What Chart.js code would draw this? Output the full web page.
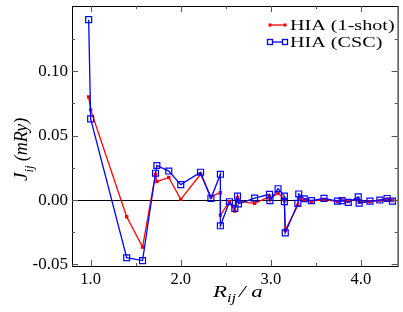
<!DOCTYPE html>
<html>
<head>
<meta charset="utf-8">
<script src="https://cdn.jsdelivr.net/npm/chart.js@4.4.1/dist/chart.umd.min.js"></script>
<style>
  html, body { margin: 0; padding: 0; background: #fff; }
  #wrap { width: 403px; height: 312px; }
</style>
</head>
<body>
<div id="wrap"><canvas id="c" width="403" height="312"></canvas></div>
<script>
// distances R_ij / a (same shells for both calculations)
const rij = [0.978, 1.0, 1.40, 1.576, 1.72, 1.735, 1.867, 2.0, 2.22, 2.335,
  2.44, 2.44, 2.54, 2.60, 2.63, 2.64, 2.82, 2.985, 2.99, 3.08,
  3.15, 3.15, 3.16, 3.30, 3.31, 3.37, 3.45, 3.59, 3.74, 3.79,
  3.86, 3.97, 3.98, 4.10, 4.21, 4.29, 4.35];

const jOneShot = [0.080, 0.070, -0.013, -0.0365, 0.020, 0.0143, 0.0175, 0.0005, 0.020, 0.0026,
  0.0057, -0.0117, -0.0013, -0.0085, 0.002, -0.001, -0.0026, 0.0026, 0.001, 0.0052,
  0.001, -0.0005, -0.0234, -0.004, 0.0015, 0.0, -0.001, 0.0005, -0.0012, 0.0,
  -0.0012, 0.001, -0.0015, -0.0012, -0.0005, 0.0008, -0.0005];

const jCSC = [0.140, 0.063, -0.0448, -0.047, 0.0208, 0.0268, 0.0225, 0.012, 0.0216, 0.0013,
  0.020, -0.020, -0.0013, -0.0065, 0.003, -0.003, 0.0015, 0.0044, -0.0005, 0.0088,
  0.003, -0.0012, -0.0255, -0.0026, 0.0047, 0.001, -0.0005, 0.0013, -0.0008, -0.0005,
  -0.0018, 0.0025, -0.0025, -0.0008, 0.0, 0.0012, -0.0008];

const xTicks = [1, 2, 3, 4];
const xMinor = [1.5, 2.5, 3.5];
const yTicks = [-0.05, 0, 0.05, 0.10];
const yMinor = [-0.025, 0.025, 0.075, 0.125];

const seriesNames = ['HIA (1-shot)', 'HIA (CSC)'];

const serif = "'Liberation Serif', 'Times New Roman', serif";

function pts(ys) {
  return rij.map((x, i) => ({ x: x, y: ys[i] }));
}

// text drawn a bit wider than the font, like the original plot
function wideText(ctx, txt, x, y, sx) {
  ctx.save();
  ctx.translate(x, y);
  ctx.scale(sx, 1);
  ctx.fillText(txt, 0, 0);
  const w = ctx.measureText(txt).width * sx;
  ctx.restore();
  return w;
}

// frame, inward ticks on all four sides, axis titles and legend
const decor = {
  id: 'decor',
  afterDraw(chart) {
    const ctx = chart.ctx;
    const a = chart.chartArea;
    const xs = chart.scales.x, ys = chart.scales.y;
    ctx.save();
    ctx.strokeStyle = '#000';
    ctx.lineWidth = 1;
    ctx.strokeRect(a.left + 0.5, a.top + 0.5, a.right - a.left, a.bottom - a.top);
    ctx.strokeStyle = '#555';
    ctx.beginPath();
    const tick = (vals, len) => {
      vals.forEach(v => {
        const px = Math.round(xs.getPixelForValue(v)) + 0.5;
        ctx.moveTo(px, a.bottom); ctx.lineTo(px, a.bottom - len);
        ctx.moveTo(px, a.top); ctx.lineTo(px, a.top + len);
      });
    };
    const tickY = (vals, len) => {
      vals.forEach(v => {
        const py = Math.round(ys.getPixelForValue(v)) + 0.5;
        ctx.moveTo(a.left, py); ctx.lineTo(a.left + len, py);
        ctx.moveTo(a.right, py); ctx.lineTo(a.right - len, py);
      });
    };
    tick(xTicks, 6); tick(xMinor, 3);
    tickY(yTicks, 6); tickY(yMinor, 3);
    ctx.stroke();

    // x title: R_ij / a
    ctx.fillStyle = '#000';
    ctx.textBaseline = 'alphabetic';
    ctx.textAlign = 'left';
    let bx = 213, by = 297;
    ctx.font = 'italic 17px ' + serif;
    bx += wideText(ctx, 'R', bx, by, 1.35);
    ctx.font = 'italic 12px ' + serif;
    bx += wideText(ctx, 'ij', bx, by + 5, 1.35) + 3;
    ctx.font = 'italic 17px ' + serif;
    wideText(ctx, '/ a', bx, by, 1.35);

    // y title: J_ij (mRy)
    ctx.translate(27, 181);
    ctx.rotate(-Math.PI / 2);
    bx = 0; by = 0;
    ctx.font = 'italic 19px ' + serif;
    ctx.fillText('J', bx, by);
    bx += ctx.measureText('J').width;
    ctx.font = 'italic 13px ' + serif;
    ctx.fillText('ij', bx, by + 6);
    bx += ctx.measureText('ij').width + 4;
    ctx.font = 'italic 18px ' + serif;
    ctx.fillText('(mRy)', bx, by);
    ctx.restore();

    // legend inside the plot, top right
    ctx.save();
    ctx.font = '15.5px ' + serif;
    ctx.textBaseline = 'middle';
    chart.data.datasets.forEach((ds, i) => {
      const ly = 25 + i * 17;
      ctx.strokeStyle = ds.borderColor;
      ctx.lineWidth = 1.3;
      ctx.beginPath();
      ctx.moveTo(270, ly); ctx.lineTo(285, ly);
      ctx.stroke();
      [270, 285].forEach(lx => {
        const s = i === 0 ? 3 : 5;
        if (i === 0) {
          ctx.fillStyle = ds.borderColor;
          ctx.fillRect(lx - s / 2, ly - s / 2, s, s);
        } else {
          ctx.fillStyle = '#fff';
          ctx.fillRect(lx - s / 2, ly - s / 2, s, s);
          ctx.strokeRect(lx - s / 2, ly - s / 2, s, s);
        }
      });
      ctx.fillStyle = '#000';
      wideText(ctx, ds.label, 290, ly + 1, 1.3);
    });
    ctx.restore();
  }
};

new Chart(document.getElementById('c'), {
  type: 'scatter',
  data: {
    datasets: [
      {
        label: seriesNames[0],
        data: pts(jOneShot),
        showLine: true,
        borderColor: '#ff0000',
        backgroundColor: '#ff0000',
        borderWidth: 1.3,
        pointStyle: 'rect',
        pointRadius: 2.4,
        pointBorderWidth: 0,
        order: 1
      },
      {
        label: seriesNames[1],
        data: pts(jCSC),
        showLine: true,
        borderColor: '#0000ff',
        backgroundColor: 'rgba(255,255,255,0)',
        borderWidth: 1.3,
        pointStyle: 'rect',
        pointRadius: 4.2,
        pointBorderWidth: 1.2,
        order: 0
      }
    ]
  },
  options: {
    responsive: false,
    animation: false,
    layout: { padding: { top: 6, right: 5, left: 0, bottom: 0 } },
    plugins: {
      legend: { display: false },
      tooltip: { enabled: false }
    },
    scales: {
      x: {
        type: 'linear',
        min: 0.793,
        max: 4.407,
        afterBuildTicks: s => { s.ticks = xTicks.map(v => ({ value: v })); },
        afterFit: s => { s.height = 46; s.paddingLeft = 0; s.paddingRight = 0; },
        grid: { display: false, drawTicks: false },
        border: { display: false },
        ticks: {
          padding: 4,
          color: '#000',
          font: { family: serif, size: 16.5 },
          maxRotation: 0,
          callback: v => v.toFixed(1)
        }
      },
      y: {
        min: -0.0512,
        max: 0.1506,
        afterBuildTicks: s => { s.ticks = yTicks.map(v => ({ value: v })); },
        afterFit: s => { s.width = 72; s.paddingTop = 0; s.paddingBottom = 0; },
        grid: {
          drawTicks: false,
          color: c => (c.tick && c.tick.value === 0 ? '#000' : 'rgba(0,0,0,0)'),
          lineWidth: 1
        },
        border: { display: false },
        ticks: {
          padding: 4,
          color: '#000',
          font: { family: serif, size: 17 },
          callback: v => v.toFixed(2)
        }
      }
    }
  },
  plugins: [decor]
});
</script>
</body>
</html>
